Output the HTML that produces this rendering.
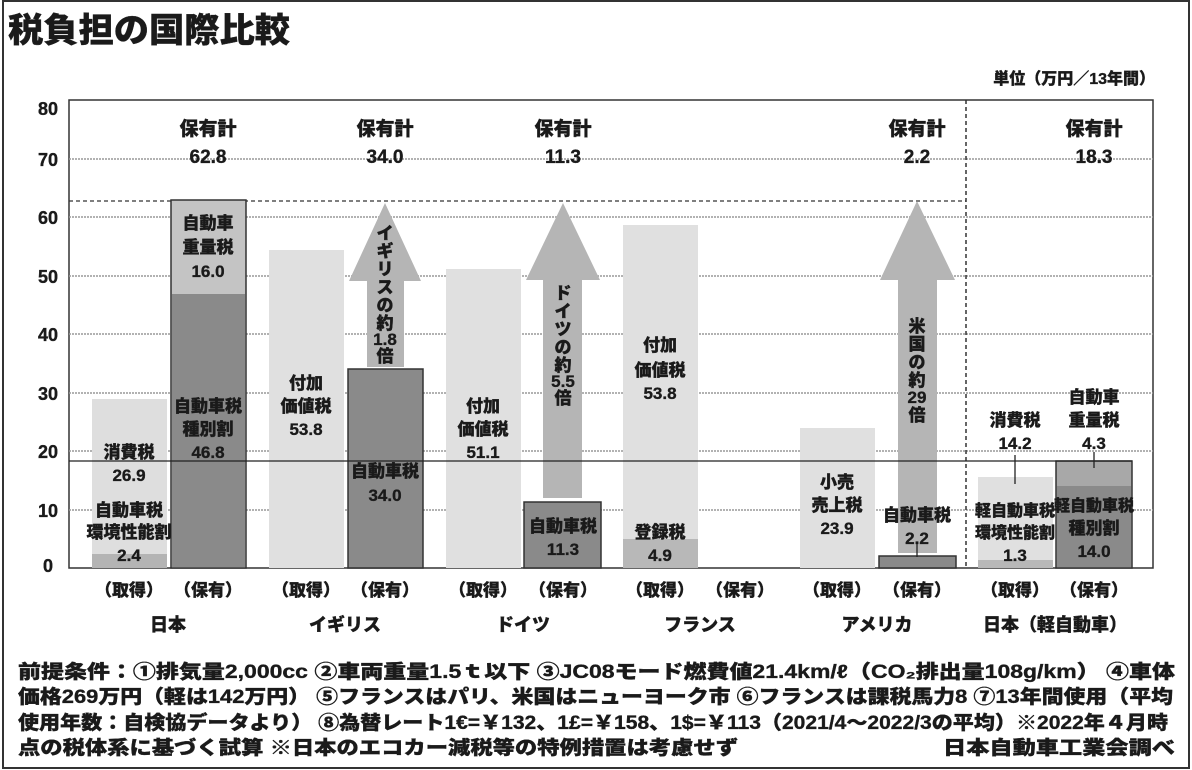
<!DOCTYPE html>
<html><head><meta charset="utf-8"><style>
html,body{margin:0;padding:0;background:#fff;}
svg{display:block;}
text{font-family:"Liberation Sans","Noto Sans CJK JP",sans-serif;font-weight:900;fill:#1a1a1a;stroke:#1a1a1a;stroke-width:0.35;}
</style></head><body>
<svg width="1192" height="770" viewBox="0 0 1192 770" xmlns="http://www.w3.org/2000/svg">
<rect x="3" y="1" width="1186" height="767" fill="#fff" stroke="#333" stroke-width="2"/>
<text x="8" y="42" font-size="34" textLength="282" lengthAdjust="spacingAndGlyphs">税負担の国際比較</text>
<text x="1155" y="84" font-size="16" text-anchor="end">単位（万円／13年間）</text>

<rect x="69" y="100" width="1084" height="468" fill="#fff" stroke="#333" stroke-width="1.5"/>
<g stroke="#999" stroke-width="1.5" stroke-dasharray="2,1">
<line x1="69" y1="159" x2="1153" y2="159"/>
<line x1="69" y1="217" x2="1153" y2="217"/>
<line x1="69" y1="276" x2="1153" y2="276"/>
<line x1="69" y1="334" x2="1153" y2="334"/>
<line x1="69" y1="393" x2="1153" y2="393"/>
<line x1="69" y1="451" x2="1153" y2="451"/>
<line x1="69" y1="510" x2="1153" y2="510"/>
</g>
<g font-size="18" text-anchor="middle">
<text x="48" y="115">80</text><text x="48" y="166">70</text><text x="48" y="224">60</text>
<text x="48" y="283">50</text><text x="48" y="341">40</text><text x="48" y="400">30</text>
<text x="48" y="458">20</text><text x="48" y="517">10</text><text x="48" y="572">0</text>
</g>

<line x1="69" y1="201" x2="966" y2="201" stroke="#333" stroke-width="1.2" stroke-dasharray="4,3"/>
<line x1="966" y1="100" x2="966" y2="568" stroke="#333" stroke-width="1.5" stroke-dasharray="4,3"/>

<rect x="92" y="399" width="75" height="169" fill="#dedede"/>
<rect x="92" y="554" width="75" height="14" fill="#b4b4b4"/>
<rect x="171" y="200" width="75" height="368" fill="#c4c4c4" stroke="#333" stroke-width="1.5"/>
<rect x="172" y="294" width="73" height="273" fill="#8a8a8a"/>
<rect x="269" y="250" width="75" height="318" fill="#e0e0e0"/>
<rect x="446" y="269" width="75" height="299" fill="#e0e0e0"/>
<rect x="623" y="225" width="75" height="343" fill="#e0e0e0"/>
<rect x="623" y="539" width="75" height="29" fill="#b8b8b8"/>
<rect x="800" y="428" width="75" height="140" fill="#e0e0e0"/>
<rect x="978" y="477" width="75" height="91" fill="#e0e0e0"/>
<rect x="978" y="560" width="75" height="8" fill="#b8b8b8"/>

<g fill="#b5b5b5">
<polygon points="367,367 367,281 349,281 385,203 421,281 404,281 404,367"/>
<polygon points="543,498 543,280 526,280 563,203 600,280 582,280 582,498"/>
<polygon points="898,553 898,280 880,280 917,201 955,280 937,280 937,553"/>
</g>

<rect x="348" y="369" width="75" height="199" fill="#8a8a8a" stroke="#333" stroke-width="1.5"/>
<rect x="524" y="502" width="77" height="66" fill="#8a8a8a" stroke="#333" stroke-width="1.5"/>
<rect x="879" y="556" width="77" height="12" fill="#8a8a8a" stroke="#333" stroke-width="1.5"/>
<rect x="1056" y="461" width="76" height="107" fill="#a8a8a8" stroke="#333" stroke-width="1.5"/>
<rect x="1057" y="486" width="74" height="81" fill="#8a8a8a"/>

<line x1="69" y1="461" x2="1132" y2="461" stroke="#222" stroke-width="1.3"/>
<line x1="1015" y1="455" x2="1015" y2="484" stroke="#222" stroke-width="1.3"/>
<line x1="1094" y1="452" x2="1094" y2="468" stroke="#222" stroke-width="1.3"/>
<line x1="917" y1="544" x2="917" y2="557" stroke="#222" stroke-width="1.3"/>

<g font-size="19" text-anchor="middle">
<text x="208" y="135">保有計</text><text x="208" y="163">62.8</text>
<text x="385" y="135">保有計</text><text x="385" y="163">34.0</text>
<text x="563" y="135">保有計</text><text x="563" y="163">11.3</text>
<text x="917" y="135">保有計</text><text x="917" y="163">2.2</text>
<text x="1094" y="135">保有計</text><text x="1094" y="163">18.3</text>
</g>
<g font-size="17" text-anchor="middle">
<text x="129" y="458">消費税</text><text x="129" y="481">26.9</text>
<text x="129" y="516">自動車税</text><text x="129" y="538">環境性能割</text><text x="129" y="561">2.4</text>
<text x="208" y="229">自動車</text><text x="208" y="253">重量税</text><text x="208" y="277">16.0</text>
<text x="208" y="412">自動車税</text><text x="208" y="435">種別割</text><text x="208" y="458">46.8</text>
<text x="306" y="389">付加</text><text x="306" y="412">価値税</text><text x="306" y="435">53.8</text>
<text x="385" y="477">自動車税</text><text x="385" y="501">34.0</text>
<text x="483" y="412">付加</text><text x="483" y="435">価値税</text><text x="483" y="458">51.1</text>
<text x="563" y="532">自動車税</text><text x="563" y="555">11.3</text>
<text x="660" y="351">付加</text><text x="660" y="376">価値税</text><text x="660" y="399">53.8</text>
<text x="660" y="538">登録税</text><text x="660" y="561">4.9</text>
<text x="837" y="488">小売</text><text x="837" y="511">売上税</text><text x="837" y="534">23.9</text>
<text x="917" y="521">自動車税</text><text x="917" y="544">2.2</text>
<text x="1015" y="426">消費税</text><text x="1015" y="449">14.2</text>
<text x="1015" y="516" font-size="16">軽自動車税</text><text x="1015" y="538" font-size="16">環境性能割</text><text x="1015" y="561">1.3</text>
<text x="1094" y="403">自動車</text><text x="1094" y="426">重量税</text><text x="1094" y="449">4.3</text>
<text x="1094" y="511" font-size="16">軽自動車税</text><text x="1094" y="534">種別割</text><text x="1094" y="557">14.0</text>
</g>
<g font-size="17" text-anchor="middle">
<text x="385" y="239">イ</text><text x="385" y="257">ギ</text><text x="385" y="275">リ</text><text x="385" y="293">ス</text><text x="385" y="311">の</text><text x="385" y="329">約</text><text x="385" y="345">1.8</text><text x="385" y="362">倍</text>
<text x="563" y="299">ド</text><text x="563" y="317">イ</text><text x="563" y="335">ツ</text><text x="563" y="353">の</text><text x="563" y="371">約</text><text x="563" y="387">5.5</text><text x="563" y="404">倍</text>
<text x="917" y="332">米</text><text x="917" y="350">国</text><text x="917" y="368">の</text><text x="917" y="386">約</text><text x="917" y="403">29</text><text x="917" y="421">倍</text>
</g>
<g font-size="17" text-anchor="middle">
<text x="129" y="596">（取得）</text><text x="208" y="596">（保有）</text>
<text x="306" y="596">（取得）</text><text x="385" y="596">（保有）</text>
<text x="483" y="596">（取得）</text><text x="563" y="596">（保有）</text>
<text x="660" y="596">（取得）</text><text x="740" y="596">（保有）</text>
<text x="837" y="596">（取得）</text><text x="917" y="596">（保有）</text>
<text x="1015" y="596">（取得）</text><text x="1094" y="596">（保有）</text>
</g>
<g font-size="18" text-anchor="middle">
<text x="168" y="631">日本</text><text x="345" y="631">イギリス</text><text x="523" y="631">ドイツ</text>
<text x="700" y="631">フランス</text><text x="877" y="631">アメリカ</text><text x="1055" y="631">日本（軽自動車）</text>
</g>
<g font-size="19">
<text x="18" y="678" textLength="1157" lengthAdjust="spacingAndGlyphs">前提条件：①排気量2,000cc ②車両重量1.5ｔ以下 ③JC08モード燃費値21.4km/ℓ（CO₂排出量108g/km） ④車体</text>
<text x="18" y="703" textLength="1155" lengthAdjust="spacingAndGlyphs">価格269万円（軽は142万円） ⑤フランスはパリ、米国はニューヨーク市 ⑥フランスは課税馬力8 ⑦13年間使用（平均</text>
<text x="18" y="729" textLength="1150" lengthAdjust="spacingAndGlyphs">使用年数：自検協データより） ⑧為替レート1€=￥132、1£=￥158、1$=￥113（2021/4～2022/3の平均）※2022年４月時</text>
<text x="18" y="754" textLength="720" lengthAdjust="spacingAndGlyphs">点の税体系に基づく試算 ※日本のエコカー減税等の特例措置は考慮せず</text>
<text x="1175" y="754" text-anchor="end" textLength="232" lengthAdjust="spacingAndGlyphs">日本自動車工業会調べ</text>
</g>
</svg>
</body></html>
